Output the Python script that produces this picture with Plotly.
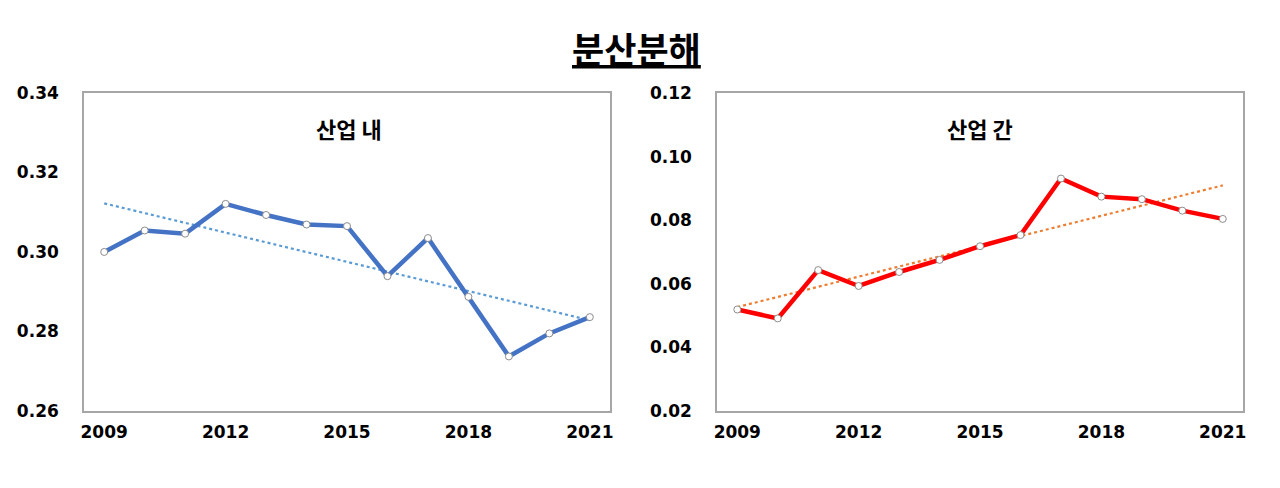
import numpy as np
import plotly.graph_objects as go

years = list(range(2009, 2022))
within = [0.3000, 0.3054, 0.3046, 0.3121, 0.3093, 0.3069, 0.3065,
          0.2939, 0.3035, 0.2887, 0.2737, 0.2795, 0.2836]
between = [0.0519, 0.0491, 0.0643, 0.0593, 0.0637, 0.0675, 0.0718,
           0.0753, 0.0931, 0.0874, 0.0866, 0.0830, 0.0804]
xticks = [2009, 2012, 2015, 2018, 2021]

def trend(y):
    # linear trend line like excel
    a, b = np.polyfit(years, y, 1)
    return [a * x + b for x in years]

fig = go.Figure()

# left panel: 산업 내
fig.add_trace(go.Scatter(x=years, y=trend(within), mode="lines",
                         line=dict(color="#5B9BD5", width=2.2, dash="dot"),
                         xaxis="x", yaxis="y", showlegend=False))
fig.add_trace(go.Scatter(x=years, y=within, mode="lines+markers",
                         line=dict(color="#4472C4", width=4.5),
                         marker=dict(size=7, color="white", line=dict(color="#8C8C8C", width=1)),
                         xaxis="x", yaxis="y", showlegend=False))

# right panel: 산업 간
fig.add_trace(go.Scatter(x=years, y=trend(between), mode="lines",
                         line=dict(color="#ED7D31", width=2.2, dash="dot"),
                         xaxis="x2", yaxis="y2", showlegend=False))
fig.add_trace(go.Scatter(x=years, y=between, mode="lines+markers",
                         line=dict(color="#FF0000", width=4.5),
                         marker=dict(size=7, color="white", line=dict(color="#8C8C8C", width=1)),
                         xaxis="x2", yaxis="y2", showlegend=False))

tickfont = dict(family="DejaVu Sans", size=17, color="black", weight="bold")
xcommon = dict(range=[2008.5, 2021.5], tickvals=xticks, ticks="", showgrid=False,
               zeroline=False, showline=True, mirror=True, linecolor="#A6A6A6",
               linewidth=1.5, tickfont=tickfont, ticklabelstandoff=5, automargin=False)
ycommon = dict(ticks="", showgrid=False, zeroline=False, showline=True, mirror=True,
               linecolor="#A6A6A6", linewidth=1.5, tickfont=tickfont, tickformat=".2f",
               ticklabelstandoff=20, automargin=False)

cjk = "Noto Sans CJK KR"
fig.update_layout(
    template="none",
    width=1280, height=488,
    margin=dict(l=0, r=0, t=0, b=0, pad=0),
    paper_bgcolor="white", plot_bgcolor="white",
    xaxis=dict(domain=[0.0656, 0.4766], anchor="y", **xcommon),
    yaxis=dict(domain=[0.158, 0.8094], anchor="x", range=[0.26, 0.34],
               dtick=0.02, **ycommon),
    xaxis2=dict(domain=[0.5602, 0.9711], anchor="y2", **xcommon),
    yaxis2=dict(domain=[0.158, 0.8094], anchor="x2", range=[0.02, 0.12],
                dtick=0.02, **ycommon),
    annotations=[
        dict(text="<b><u>분산분해</u></b>", x=0.497, y=1 - 47 / 488, xref="paper", yref="paper",
             xanchor="center", yanchor="middle", showarrow=False,
             font=dict(family=cjk, size=35, color="black")),
        dict(text="<b>산업 내</b>", x=0.2727, y=1 - 128 / 488, xref="paper", yref="paper",
             xanchor="center", yanchor="middle", showarrow=False,
             font=dict(family=cjk, size=22, color="black")),
        dict(text="<b>산업 간</b>", x=0.7656, y=1 - 128 / 488, xref="paper", yref="paper",
             xanchor="center", yanchor="middle", showarrow=False,
             font=dict(family=cjk, size=22, color="black")),
    ],
)

# page body has a default 8px margin, drop it so the figure fills the window
fig.write_html("out.html", config={"displayModeBar": False},
               post_script="document.body.style.margin='0';")
